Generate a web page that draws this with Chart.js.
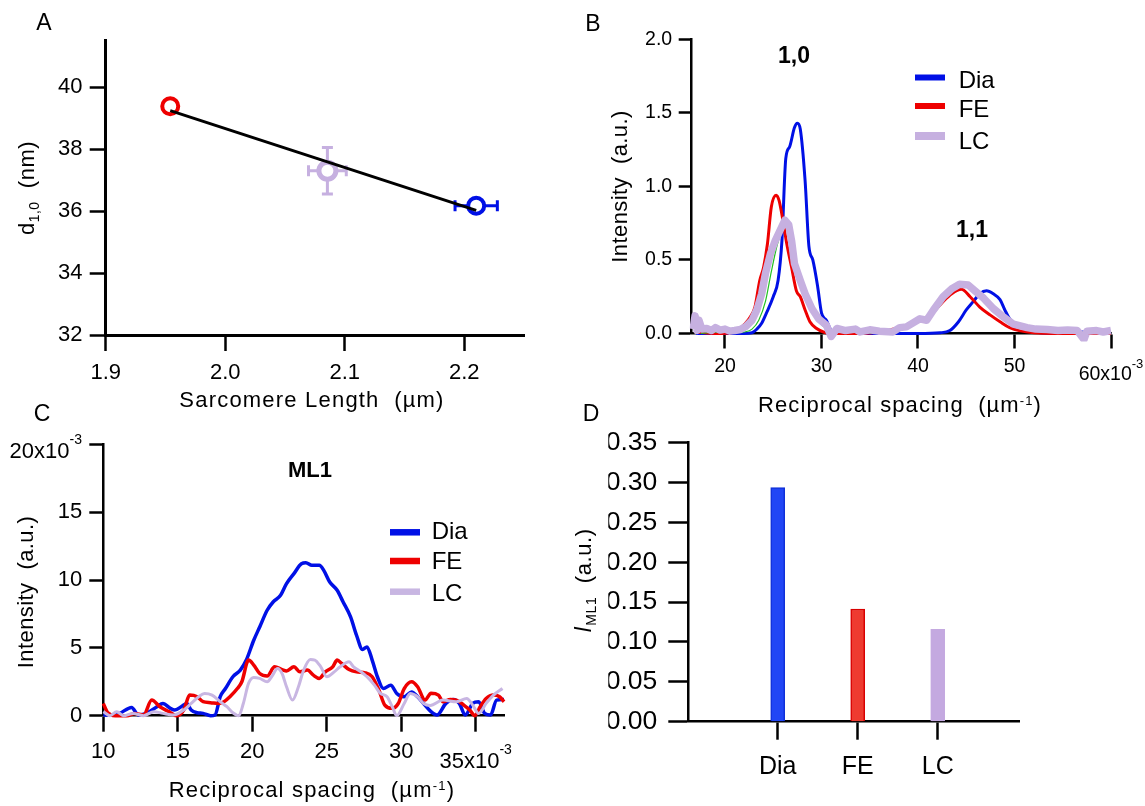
<!DOCTYPE html>
<html><head><meta charset="utf-8">
<script src="https://cdn.jsdelivr.net/npm/chart.js@4.4.1/dist/chart.umd.min.js"></script>
<style>
html,body{margin:0;padding:0;background:#fff;}
#wrap{position:relative;width:1145px;height:806px;overflow:hidden;background:#fff;}
canvas{position:absolute;left:0;top:0;}
</style></head><body>
<div id="wrap">
<canvas id="cA" width="1145" height="806"></canvas>
<canvas id="cB" width="1145" height="806"></canvas>
<canvas id="cC" width="1145" height="806"></canvas>
<canvas id="cD" width="1145" height="806"></canvas>
</div>
<script>
// ---------------- DATA ----------------
// Panel A : d1,0 vs sarcomere length (order: FE, LC, Dia)
const A_NAMES = ['FE', 'LC', 'Dia'];
const A_SL = [1.954, 2.0855, 2.21];
const A_D10 = [39.38, 37.3, 36.17];
const A_SL_ERR = [0, 0.0158, 0.0177];
const A_D10_ERR = [0, 0.75, 0];
const A_FIT_SL = [1.954, 2.21];
const A_FIT_D10 = [39.24, 36.02];
const A_X_TICKS = [1.9, 2.0, 2.1, 2.2];
const A_Y_TICKS = [32, 34, 36, 38, 40];

// Panel B : equatorial intensity profiles (x in 1e-3 um^-1)
const B_DIA = [[17,0],[20,0],[22,0],[22.8,0.005],[23.3,0.03],[23.8,0.07],[24.3,0.14],[25.0,0.25],[25.5,0.36],[25.9,0.63],[26.3,1.19],[26.7,1.27],[27.2,1.40],[27.5,1.43],[27.8,1.39],[28.3,1.04],[28.7,0.59],[29.1,0.50],[29.6,0.32],[30.0,0.14],[30.5,0.09],[31.0,0.02],[31.5,0.005],[33,0],[36,0],[40,0],[42.3,0.005],[43.3,0.02],[44.2,0.08],[45.0,0.16],[45.7,0.215],[46.4,0.27],[47.1,0.29],[47.8,0.27],[48.5,0.23],[49.0,0.16],[49.5,0.10],[50.2,0.057],[51.3,0.023],[52.7,0.005],[55,0],[57,0.01],[58,0],[60,0.005]];
const B_FE = [[17,0.01],[19,0],[21,0.01],[22.1,0.068],[22.6,0.11],[23.1,0.18],[23.6,0.36],[24.0,0.45],[24.4,0.61],[24.8,0.86],[25.3,0.94],[25.6,0.905],[26.0,0.77],[26.4,0.61],[26.9,0.45],[27.4,0.29],[27.8,0.25],[28.3,0.16],[28.8,0.08],[29.5,0.034],[30.2,0.01],[31,0],[34,0],[36,0.01],[38,0.04],[40,0.08],[41.5,0.14],[42.5,0.21],[43.5,0.27],[44.5,0.30],[45.4,0.25],[46.4,0.18],[47.5,0.125],[48.5,0.08],[49.5,0.04],[50.6,0.018],[52.0,0.005],[54,0],[57,0],[60,0]];
const B_LC = [[16.7,0.03],[16.9,0.12],[17.1,0.02],[17.3,0.09],[17.6,0.03],[18.1,0.034],[18.6,0.02],[19.0,0.04],[19.5,0.023],[20.0,0.03],[20.5,0.016],[21.0,0.02],[21.6,0.027],[22.2,0.05],[22.8,0.09],[23.3,0.16],[23.8,0.27],[24.2,0.41],[24.7,0.54],[25.2,0.63],[25.7,0.70],[26.2,0.77],[26.6,0.74],[26.9,0.63],[27.2,0.475],[27.8,0.36],[28.3,0.27],[29.0,0.17],[29.7,0.10],[30.5,0.057],[31.0,-0.02],[31.6,0.034],[32.5,0.02],[33.5,0.03],[34.0,0.011],[35,0.025],[36,0.015],[37.4,0.011],[38.1,0.04],[38.8,0.045],[40.2,0.10],[40.9,0.09],[41.6,0.16],[42.6,0.25],[43.5,0.305],[44.3,0.335],[45.2,0.33],[45.9,0.29],[46.8,0.24],[47.8,0.17],[48.9,0.11],[49.9,0.063],[51.3,0.04],[52.2,0.03],[53.4,0.027],[54.5,0.02],[55.5,0.023],[56.5,0.02],[57.2,-0.04],[57.5,0.016],[58.5,0.02],[59.2,0.01],[60,0.02]];
const B_GREEN = [[17.5,0],[19,0.01],[21,0.005],[22,0.01],[22.8,0.03],[23.5,0.09],[24.2,0.22],[24.8,0.42],[25.4,0.6],[25.9,0.7],[26.3,0.76],[26.7,0.7],[27.1,0.52],[27.7,0.38],[28.4,0.26],[29.2,0.14],[30,0.06],[31,0.02],[33,0.01],[36,0],[38,0.03],[40,0.08],[41.6,0.15],[42.6,0.24],[43.5,0.3],[44.3,0.32],[45.2,0.31],[46,0.27],[47,0.21],[48,0.15],[49,0.1],[50,0.055],[51.5,0.03],[53,0.015],[55,0.005],[57,0.01],[60,0]];
const B_X_TICKS = [20, 30, 40, 50, 60];
const B_Y_TICKS = [0, 0.5, 1.0, 1.5, 2.0];

// Panel C : ML1 profiles (x in 1e-3 um^-1, y in 1e-3 a.u.)
const C_DIA = [[10,0.05],[10.7,0.05],[11.1,0.17],[11.9,0.61],[12.35,0.05],[12.9,0.17],[13.6,0.66],[14.0,0.9],[14.5,0.54],[14.8,0.42],[15.3,0.71],[15.6,0.9],[15.9,0.42],[16.3,0.22],[16.7,0.17],[17.2,0],[17.5,0.05],[17.85,1.4],[18.2,2.0],[18.7,2.87],[19.2,3.36],[19.6,4.1],[20.1,5.56],[20.5,6.54],[21.0,7.77],[21.4,8.38],[21.9,8.87],[22.3,9.73],[22.8,10.47],[23.3,11.2],[23.6,11.27],[24.0,11.08],[24.5,11.08],[24.8,10.71],[25.2,9.85],[25.7,9.24],[26.1,8.38],[26.6,7.28],[27.0,5.93],[27.4,4.88],[27.7,5.07],[28.05,4.1],[28.4,2.87],[28.8,2.0],[29.3,2.25],[29.7,1.64],[30.2,1.4],[30.7,1.75],[31.1,1.4],[31.5,0.9],[32.0,0.3],[32.4,0.05],[33.0,0.91],[33.5,1.2],[33.9,0.91],[34.3,0.05],[34.8,0.91],[35.2,1.03],[35.6,0.17],[36.0,0.05],[36.4,1.15],[36.9,1.2]];
const C_FE = [[10,0.9],[10.3,0.22],[10.8,0],[11.6,0],[12.1,0.17],[12.7,0.05],[13.25,1.15],[13.8,0.66],[14.4,0.3],[14.9,0],[15.4,0.42],[15.8,1.52],[16.3,1.4],[16.7,1.03],[17.2,0.96],[17.7,0.9],[18.1,1.03],[18.5,1.4],[19.0,2.0],[19.3,2.5],[19.75,4.1],[20.1,3.73],[20.5,3.11],[21.0,2.92],[21.5,3.6],[22.0,3.4],[22.3,3.3],[22.8,3.6],[23.2,3.23],[23.7,3.36],[24.1,2.99],[24.5,2.75],[24.9,3.23],[25.4,3.6],[25.7,4.1],[26.0,3.85],[26.5,3.4],[27.0,3.23],[27.6,3.16],[28.05,2.87],[28.5,1.89],[28.9,0.78],[29.4,0.54],[29.8,0.9],[30.2,2.0],[30.7,2.5],[31.1,2.13],[31.6,1.15],[32.0,1.65],[32.5,1.52],[32.8,1.03],[33.3,1.2],[33.7,1.15],[34.2,0.78],[34.6,0.42],[34.95,0],[35.3,0.66],[35.7,1.27],[36.2,1.52],[36.6,1.4],[36.9,1.03]];
const C_LC = [[10,0.3],[10.45,0],[10.9,0.3],[11.35,0],[12.0,0.17],[12.7,0],[13.4,0.3],[14.0,0.17],[14.7,0.05],[15.4,0.42],[15.9,0.9],[16.4,1.4],[16.8,1.64],[17.3,1.52],[17.85,1.03],[18.3,0.66],[18.7,0.22],[19.1,0],[19.4,0.9],[19.75,2.38],[20.1,2.82],[20.5,2.75],[21.0,2.5],[21.3,2.87],[21.7,3.48],[22.0,3.11],[22.3,2.13],[22.7,1.15],[23.1,2.13],[23.45,3.36],[23.9,4.14],[24.2,4.1],[24.6,3.6],[25.0,2.87],[25.5,3.23],[25.9,3.6],[26.5,3.97],[26.8,3.6],[27.3,3.23],[27.7,2.87],[28.2,2.25],[28.6,1.64],[29.05,1.4],[29.4,0.66],[29.7,0],[30.2,0.9],[30.6,1.64],[31.1,1.4],[31.5,0.9],[31.95,0.75],[32.8,1.15],[33.7,1.03],[34.4,1.27],[34.8,0.78],[35.2,0.17],[35.7,0.91],[36.2,1.52],[36.8,2.0]];
const C_X_TICKS = [10, 15, 20, 25, 30, 35];
const C_Y_TICKS = [0, 5, 10, 15, 20];

// Panel D : ML1 intensity
const D_CATS = ['Dia', 'FE', 'LC'];
const D_VALUES = [0.2936, 0.1414, 0.1159];
const D_Y_TICKS = [0, 0.05, 0.10, 0.15, 0.20, 0.25, 0.30, 0.35];

// ---------------- STYLE ----------------
const FAM = '"Liberation Sans", Arial, Helvetica, sans-serif';
const BLUE = '#0010e6', RED = '#ee0000', LAV = '#c6b0e0', GREEN = '#22c022';
Chart.defaults.font.family = FAM;
Chart.defaults.color = '#000';
Chart.defaults.animation = false;
Chart.defaults.events = [];
Chart.defaults.plugins.legend.display = false;
Chart.defaults.plugins.tooltip.enabled = false;

function fontStr(size, weight, style) { return (style || 'normal') + ' ' + (weight || 'normal') + ' ' + size + 'px ' + FAM; }
function drawRich(ctx, parts, x, y, o) {
  o = o || {};
  ctx.save();
  ctx.translate(x, y);
  if (o.rot) ctx.rotate(o.rot);
  ctx.fillStyle = o.color || '#000';
  ctx.textAlign = 'left';
  ctx.textBaseline = 'alphabetic';
  const ls = o.ls || 0;
  let total = 0;
  const ws = parts.map(p => {
    ctx.font = fontStr(p.size, p.weight, p.style);
    ctx.letterSpacing = ls + 'px';
    const w = ctx.measureText(p.t).width;
    total += w; return w;
  });
  let cx = o.align === 'right' ? -total : (o.align === 'left' ? 0 : -total / 2);
  const base = (o.baseSize || 0) * 0.36;
  parts.forEach((p, i) => {
    ctx.font = fontStr(p.size, p.weight, p.style);
    ctx.letterSpacing = ls + 'px';
    ctx.fillText(p.t, cx, base + (p.dy || 0));
    cx += ws[i];
  });
  ctx.restore();
}
function legendItem(ctx, x1, x2, yl, lw, color, label, tx, ty, size) {
  ctx.save();
  ctx.strokeStyle = color; ctx.lineWidth = lw; ctx.lineCap = 'butt';
  ctx.beginPath(); ctx.moveTo(x1, yl); ctx.lineTo(x2, yl); ctx.stroke();
  ctx.restore();
  drawRich(ctx, [{t: label, size: size}], tx, ty, {align: 'left', baseSize: size});
}
function mkAxis(o) {
  return {
    type: 'linear', position: o.pos, min: o.min, max: o.max, offset: false,
    afterBuildTicks: s => { s.ticks = o.ticks.map(v => ({value: v})); },
    afterFit: s => { if (o.pos === 'left') s.width = o.size; else s.height = o.size; },
    grid: { display: true, offset: false, drawOnChartArea: false, drawTicks: true, tickLength: o.tl, tickWidth: o.tw || 2.5, tickColor: '#000', color: '#000' },
    border: { display: true, color: '#000', width: o.bw || 2.5 },
    ticks: { font: {size: o.fs, family: FAM}, color: '#000', padding: o.pad, callback: o.fmt, maxRotation: 0, minRotation: 0, autoSkip: false }
  };
}
const pts = arr => arr.map(([x, y]) => ({x: x, y: y}));

// ---------------- PANEL A ----------------
const A_COLORS = [RED, LAV, BLUE];
const errPlugin = {
  id: 'errA',
  beforeDatasetsDraw(chart) {
    const ctx = chart.ctx, xs = chart.scales.x, ys = chart.scales.y;
    ctx.save();
    ctx.lineWidth = 3;
    A_SL.forEach((v, i) => {
      ctx.strokeStyle = A_COLORS[i];
      const px = xs.getPixelForValue(v), py = ys.getPixelForValue(A_D10[i]);
      if (A_SL_ERR[i] > 0) {
        const x1 = xs.getPixelForValue(v - A_SL_ERR[i]), x2 = xs.getPixelForValue(v + A_SL_ERR[i]);
        ctx.beginPath(); ctx.moveTo(x1, py); ctx.lineTo(x2, py);
        ctx.moveTo(x1, py - 5.5); ctx.lineTo(x1, py + 5.5);
        ctx.moveTo(x2, py - 5.5); ctx.lineTo(x2, py + 5.5); ctx.stroke();
      }
      if (A_D10_ERR[i] > 0) {
        const y1 = ys.getPixelForValue(A_D10[i] - A_D10_ERR[i]), y2 = ys.getPixelForValue(A_D10[i] + A_D10_ERR[i]);
        ctx.beginPath(); ctx.moveTo(px, y1); ctx.lineTo(px, y2);
        ctx.moveTo(px - 5.5, y1); ctx.lineTo(px + 5.5, y1);
        ctx.moveTo(px - 5.5, y2); ctx.lineTo(px + 5.5, y2); ctx.stroke();
      }
    });
    ctx.restore();
  }
};
const textA = {
  id: 'txtA',
  afterDraw(chart) {
    const ctx = chart.ctx;
    drawRich(ctx, [{t: 'A', size: 23}], 44, 22, {baseSize: 23});
    drawRich(ctx, [{t: 'Sarcomere Length  (µm)', size: 22}], 312, 399, {baseSize: 22, ls: 1.2});
    drawRich(ctx, [{t: 'd', size: 22}, {t: '1,0', size: 14, dy: 5}, {t: '  (nm)', size: 22}], 26, 188, {baseSize: 22, ls: 0.5, rot: -Math.PI / 2});
  }
};
new Chart(document.getElementById('cA'), {
  type: 'scatter',
  data: {
    datasets: [
      { label: 'fit', data: A_FIT_SL.map((x, i) => ({x: x, y: A_FIT_D10[i]})), showLine: true, borderColor: '#000', borderWidth: 3, pointRadius: 0 }
    ].concat(A_NAMES.map((n, i) => ({
      label: n, data: [{x: A_SL[i], y: A_D10[i]}], showLine: false,
      pointStyle: 'circle', pointRadius: i === 1 ? 8.5 : 8, pointBorderWidth: i === 1 ? 5 : 4,
      pointBorderColor: A_COLORS[i], pointBackgroundColor: '#fff'
    })))
  },
  options: {
    responsive: false, devicePixelRatio: 1,
    layout: { padding: { left: 25.7, top: 40.5, right: 621, bottom: 411 } },
    scales: {
      x: mkAxis({pos: 'bottom', min: 1.9, max: 2.25, ticks: A_X_TICKS, size: 60, tl: 16, pad: 8.8, fs: 22, bw: 3, fmt: v => v.toFixed(1)}),
      y: mkAxis({pos: 'left', min: 32, max: 41.5, ticks: A_Y_TICKS, size: 80, tl: 16, pad: 7.2, fs: 22, bw: 3, fmt: v => String(v)})
    }
  },
  plugins: [errPlugin, textA]
});

// ---------------- PANEL B ----------------
const textB = {
  id: 'txtB',
  afterDraw(chart) {
    const ctx = chart.ctx, xs = chart.scales.x;
    drawRich(ctx, [{t: 'B', size: 23}], 593, 22.5, {baseSize: 23});
    drawRich(ctx, [{t: 'Reciprocal spacing  (µm', size: 22}, {t: '-1', size: 13, dy: -7}, {t: ')', size: 22}], 900, 403.8, {baseSize: 22, ls: 1.1});
    drawRich(ctx, [{t: 'Intensity  (a.u.)', size: 22}], 619.5, 186.5, {baseSize: 22, ls: 0.4, rot: -Math.PI / 2});
    drawRich(ctx, [{t: '1,0', size: 23, weight: 'bold'}], 794, 54.3, {baseSize: 23});
    drawRich(ctx, [{t: '1,1', size: 23, weight: 'bold'}], 972, 228.3, {baseSize: 23});
    drawRich(ctx, [{t: '60x10', size: 19.5}, {t: '-3', size: 13, dy: -12}], xs.getPixelForValue(60), 372.5, {baseSize: 19.5});
    legendItem(ctx, 915, 945, 77.5, 6, BLUE, 'Dia', 958.7, 79, 24);
    legendItem(ctx, 915, 945, 106, 6, RED, 'FE', 958.7, 108.5, 24);
    legendItem(ctx, 915, 945, 136, 8, LAV, 'LC', 958.7, 140.5, 24);
  }
};
const clipB = {left: 2, top: 5, right: 5, bottom: 8};
new Chart(document.getElementById('cB'), {
  type: 'line',
  data: {
    datasets: [
      { label: 'Dia', data: pts(B_DIA), borderColor: BLUE, borderWidth: 3, pointRadius: 0, cubicInterpolationMode: 'monotone', order: 4, clip: clipB },
      { label: 'FE', data: pts(B_FE), borderColor: RED, borderWidth: 3, pointRadius: 0, cubicInterpolationMode: 'monotone', order: 3, clip: clipB },
      { label: 'LC', data: pts(B_LC), borderColor: LAV, borderWidth: 7.5, pointRadius: 0, tension: 0, borderJoinStyle: 'round', order: 1, clip: clipB },
      { label: '', data: pts(B_GREEN), borderColor: GREEN, borderWidth: 1.2, pointRadius: 0, cubicInterpolationMode: 'monotone', order: 2, clip: clipB }
    ]
  },
  options: {
    responsive: false, devicePixelRatio: 1,
    layout: { padding: { left: 631.7, top: 39.3, right: 34, bottom: 422.5 } },
    scales: {
      x: mkAxis({pos: 'bottom', min: 16.55, max: 60, ticks: B_X_TICKS, size: 50, tl: 15, pad: 6.5, fs: 19.5, fmt: v => v === 60 ? '' : String(v)}),
      y: mkAxis({pos: 'left', min: 0, max: 2, ticks: B_Y_TICKS, size: 60, tl: 13, pad: 6.5, fs: 19.5, fmt: v => v.toFixed(1)})
    }
  },
  plugins: [textB]
});

// ---------------- PANEL C ----------------
const textC = {
  id: 'txtC',
  afterDraw(chart) {
    const ctx = chart.ctx, xs = chart.scales.x, ys = chart.scales.y;
    drawRich(ctx, [{t: 'C', size: 23}], 42, 413, {baseSize: 23});
    drawRich(ctx, [{t: 'Reciprocal spacing  (µm', size: 22}, {t: '-1', size: 13, dy: -7}, {t: ')', size: 22}], 312, 789.4, {baseSize: 22, ls: 1.2});
    drawRich(ctx, [{t: 'Intensity  (a.u.)', size: 22}], 25, 592, {baseSize: 22, ls: 0.4, rot: -Math.PI / 2});
    drawRich(ctx, [{t: 'ML1', size: 22, weight: 'bold'}], 310, 469.3, {baseSize: 22});
    drawRich(ctx, [{t: '35x10', size: 22}, {t: '-3', size: 14, dy: -14}], xs.getPixelForValue(35), 760.5, {baseSize: 22});
    drawRich(ctx, [{t: '20x10', size: 22}, {t: '-3', size: 14, dy: -14.5}], 82, ys.getPixelForValue(20) + 6, {baseSize: 22, align: 'right'});
    legendItem(ctx, 390, 420, 532.3, 6.5, BLUE, 'Dia', 431.7, 530.5, 24);
    legendItem(ctx, 390, 420, 561, 6.5, RED, 'FE', 431.7, 560.8, 24);
    legendItem(ctx, 390, 420, 591.7, 6.5, '#c8b6e2', 'LC', 431.7, 592.5, 24);
  }
};
const clipC = {left: 2, top: 5, right: 3, bottom: 3};
new Chart(document.getElementById('cC'), {
  type: 'line',
  data: {
    datasets: [
      { label: 'Dia', data: pts(C_DIA), borderColor: BLUE, borderWidth: 3.5, pointRadius: 0, cubicInterpolationMode: 'monotone', order: 3, clip: clipC },
      { label: 'FE', data: pts(C_FE), borderColor: RED, borderWidth: 3.5, pointRadius: 0, cubicInterpolationMode: 'monotone', order: 2, clip: clipC },
      { label: 'LC', data: pts(C_LC), borderColor: '#c8b6e2', borderWidth: 3, pointRadius: 0, cubicInterpolationMode: 'monotone', order: 1, clip: clipC }
    ]
  },
  options: {
    responsive: false, devicePixelRatio: 1,
    layout: { padding: { left: 23.3, top: 444.3, right: 641, bottom: 40.3 } },
    scales: {
      x: mkAxis({pos: 'bottom', min: 10, max: 36.9, ticks: C_X_TICKS, size: 50, tl: 16, pad: 6.8, fs: 22, fmt: v => v === 35 ? '' : String(v)}),
      y: mkAxis({pos: 'left', min: 0, max: 20, ticks: C_Y_TICKS, size: 80, tl: 14, pad: 7, fs: 22, fmt: v => v === 20 ? '' : String(v)})
    }
  },
  plugins: [textC]
});

// ---------------- PANEL D ----------------
const textD = {
  id: 'txtD',
  afterDraw(chart) {
    const ctx = chart.ctx;
    drawRich(ctx, [{t: 'D', size: 23}], 591, 413, {baseSize: 23});
    drawRich(ctx, [{t: 'I', size: 23, style: 'italic'}, {t: 'ML1', size: 14, dy: 5}, {t: '  (a.u.)', size: 22}], 583.5, 580.5, {baseSize: 22, ls: 0.6, rot: -Math.PI / 2});
  }
};
new Chart(document.getElementById('cD'), {
  type: 'bar',
  data: {
    datasets: [{
      label: 'ML1', data: D_VALUES.map((v, i) => ({x: i + 1, y: v})),
      backgroundColor: ['#2146f5', '#ee3b30', '#c4a9e0'],
      borderColor: ['#1030d8', '#d80000', '#c4a9e0'],
      borderWidth: 1.5, barThickness: 14, borderSkipped: 'bottom'
    }]
  },
  options: {
    responsive: false, devicePixelRatio: 1,
    layout: { padding: { left: 608.3, top: 442.7, right: 126, bottom: 24.3 } },
    scales: {
      x: mkAxis({pos: 'bottom', min: -0.1175, max: 4.016, ticks: [1, 2, 3], size: 60, tl: 18, pad: 12, fs: 25, fmt: v => D_CATS[v - 1]}),
      y: mkAxis({pos: 'left', min: 0, max: 0.35, ticks: D_Y_TICKS, size: 80, tl: 20, pad: 11, fs: 26.5, fmt: v => v.toFixed(2)})
    }
  },
  plugins: [textD]
});
</script>
</body></html>
